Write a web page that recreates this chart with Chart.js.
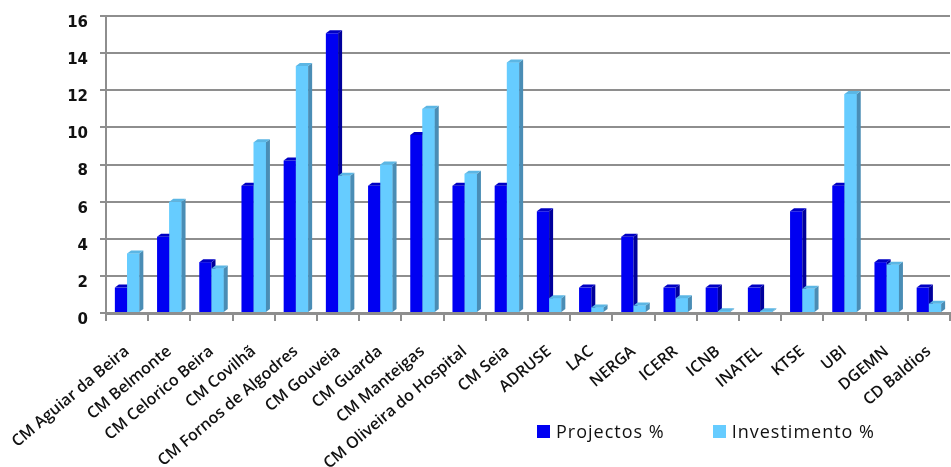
<!DOCTYPE html>
<html>
<head>
<meta charset="utf-8">
<script src="https://cdn.jsdelivr.net/npm/chart.js@4"></script>
<style>
    html, body { margin: 0; padding: 0; background: #fff; }
    #wrap { position: relative; width: 951px; height: 467px; }
    #legend {
        position: absolute; left: 537px; top: 419px;
        font: 18px 'Open Sans', sans-serif; color: #111; letter-spacing: 1px;
        display: flex; align-items: center;
    }
    #legend .sw { display: inline-block; width: 13px; height: 13px; margin-right: 6px; }
    #legend .item { display: flex; align-items: center; margin-right: 48px; }
</style>
</head>
<body>
<div id="wrap">
    <canvas id="chart" width="951" height="467"></canvas>
    <div id="legend"></div>
</div>
<script>
// Data
const categories = [
    'CM Aguiar da Beira', 'CM Belmonte', 'CM Celorico Beira', 'CM Covilhã',
    'CM Fornos de Algodres', 'CM Gouveia', 'CM Guarda', 'CM Manteigas',
    'CM Oliveira do Hospital', 'CM Seia', 'ADRUSE', 'LAC', 'NERGA', 'ICERR',
    'ICNB', 'INATEL', 'KTSE', 'UBI', 'DGEMN', 'CD Baldios'
];
const projectos = [1.37, 4.11, 2.74, 6.85, 8.22, 15.07, 6.85, 9.59, 6.85, 6.85,
    5.48, 1.37, 4.11, 1.37, 1.37, 1.37, 5.48, 6.85, 2.74, 1.37];
const investimento = [3.2, 6.0, 2.4, 9.2, 13.3, 7.4, 8.0, 11.0, 7.5, 13.5,
    0.8, 0.3, 0.4, 0.8, 0.1, 0.1, 1.3, 11.8, 2.6, 0.5];
const seriesNames = ['Projectos %', 'Investimento %'];
const yMin = 0, yMax = 16, yStep = 2;

const colors = {
    dark:  { front: '#0000F2', side: '#00009C', top: '#0000C4' },
    light: { front: '#66CCFF', side: '#4A8DB5', top: '#5BB6E4' },
    grid: '#8e8e8e',
    text: '#111111'
};

// pseudo 3D: side and top faces drawn from each bar's own geometry
const depth = { dx: 4, dy: 3 };

function drawFaces(ctx, bar, pal) {
    const p = bar.getProps(['x', 'y', 'base', 'width'], true);
    const l = p.x - p.width / 2, r = p.x + p.width / 2;
    const t = Math.min(p.y, p.base), b = Math.max(p.y, p.base);
    ctx.fillStyle = pal.side;
    ctx.beginPath();
    ctx.moveTo(r, t);
    ctx.lineTo(r + depth.dx, t - depth.dy);
    ctx.lineTo(r + depth.dx, b - depth.dy);
    ctx.lineTo(r, b);
    ctx.closePath();
    ctx.fill();
    ctx.fillStyle = pal.top;
    ctx.beginPath();
    ctx.moveTo(l, t);
    ctx.lineTo(l + depth.dx, t - depth.dy);
    ctx.lineTo(r + depth.dx, t - depth.dy);
    ctx.lineTo(r, t);
    ctx.closePath();
    ctx.fill();
}

const bars3d = {
    id: 'bars3d',
    afterDatasetsDraw(chart) {
        const ctx = chart.ctx;
        const m0 = chart.getDatasetMeta(0), m1 = chart.getDatasetMeta(1);
        ctx.save();
        m0.data.forEach((bar, i) => {
            drawFaces(ctx, bar, colors.dark);
            m1.data[i].draw(ctx);
            drawFaces(ctx, m1.data[i], colors.light);
        });
        ctx.restore();
    }
};

// keep the plot box fixed: labels are allowed to run to the canvas edges
function noPadding(scale) {
    scale.paddingTop = 0;
    scale.paddingBottom = 0;
    scale.paddingLeft = 0;
    scale.paddingRight = 0;
}

new Chart(document.getElementById('chart'), {
    type: 'bar',
    data: {
        labels: categories,
        datasets: [
            { label: seriesNames[0], data: projectos, backgroundColor: colors.dark.front },
            { label: seriesNames[1], data: investimento, backgroundColor: colors.light.front }
        ]
    },
    options: {
        responsive: false,
        animation: false,
        layout: { padding: { top: 16, right: 1, left: 0, bottom: 0 } },
        datasets: { bar: { barPercentage: 1.0, categoryPercentage: 0.58 } },
        plugins: {
            legend: { display: false },
            tooltip: { enabled: false }
        },
        scales: {
            x: {
                afterFit(scale) { scale.height = 154; noPadding(scale); },
                grid: { drawOnChartArea: false, color: colors.grid, lineWidth: 2, tickLength: 8 },
                border: { color: colors.grid, width: 3 },
                ticks: {
                    color: colors.text,
                    font: { family: "'Open Sans', sans-serif", size: 16, weight: '600' },
                    minRotation: 40, maxRotation: 40, autoSkip: false, padding: 21
                }
            },
            y: {
                min: yMin, max: yMax,
                afterFit(scale) { scale.width = 106; noPadding(scale); },
                grid: { color: colors.grid, lineWidth: 2, tickLength: 6 },
                border: { color: colors.grid, width: 2 },
                ticks: {
                    stepSize: yStep, color: colors.text, padding: 12, labelOffset: 7,
                    font: { family: "'DejaVu Sans', sans-serif", size: 15, weight: 'bold' }
                }
            }
        }
    },
    plugins: [bars3d]
});

// legend sits over the label band at the bottom right, as in the reference
const legendEl = document.getElementById('legend');
[colors.dark.front, colors.light.front].forEach((c, i) => {
    const item = document.createElement('span');
    item.className = 'item';
    item.innerHTML = '<span class="sw" style="background:' + c + '"></span>' + seriesNames[i];
    legendEl.appendChild(item);
});
</script>
</body>
</html>
